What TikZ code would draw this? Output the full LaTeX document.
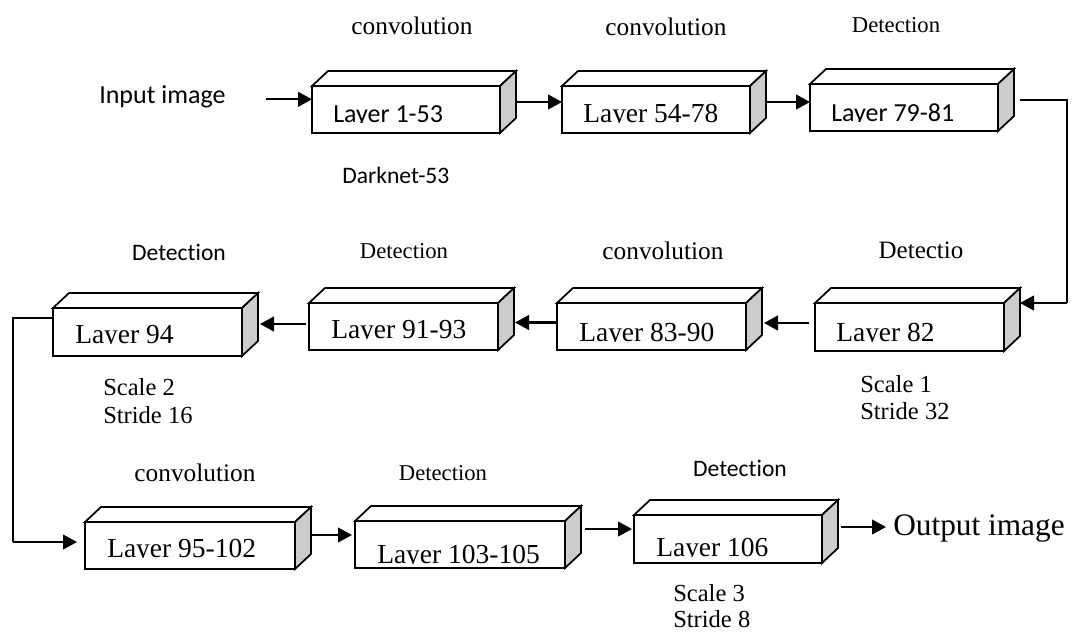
\documentclass[tikz,border=0pt]{standalone}
\usepackage{fontspec}
\setmainfont{Liberation Serif}
\newfontfamily\calfont[Ligatures=NoCommon]{Carlito}
\usetikzlibrary{arrows.meta,calc}

% depth of the cuboids (top/side faces)
\def\cdx{16}
\def\cdy{15}

\tikzset{
  face/.style={draw, line width=1.3pt, fill=white, inner sep=0pt, outer sep=0pt, anchor=north west},
  facetop/.style={draw, line width=1.3pt, fill=white},
  faceside/.style={draw, line width=1.3pt, fill=black!20},
  arr/.style={line width=1.6pt, -{Triangle[length=10.5pt,width=11pt]}},
  link/.style={line width=1pt},
  lbl/.style={inner sep=0pt, anchor=base},
  lblw/.style={inner sep=0pt, anchor=base west},
  serL/.style={font=\fontsize{20.6}{24}\selectfont},
  calL/.style={font=\calfont\fontsize{19.5}{23}\selectfont},
  serC/.style={font=\fontsize{19}{22}\selectfont},
  serD/.style={font=\fontsize{17}{20}\selectfont},
  serE/.style={font=\fontsize{18.75}{22}\selectfont},
  serS/.style={font=\fontsize{18.4}{22}\selectfont},
  serO/.style={font=\fontsize{23.5}{27}\selectfont},
  calI/.style={font=\calfont\fontsize{19.5}{23}\selectfont},
  calD/.style={font=\calfont\fontsize{17.7}{21}\selectfont},
}

% a layer block: front face node, top face, shaded side face, caption
% whose descenders are hidden by the lower edge of the caption frame
% #1 name, #2 left, #3 top, #4 width, #5 height, #6 text x, #7 text baseline, #8 font style, #9 caption
\newcommand\layerbox[9]{%
  \node[face, minimum width=#4*0.75pt, minimum height=#5*0.75pt] (#1) at (#2,#3) {};
  \draw[facetop] (#1.north west) -- ++(\cdx,-\cdy) -- ([shift={(\cdx,-\cdy)}]#1.north east) -- (#1.north east) -- cycle;
  \draw[faceside] (#1.north east) -- ++(\cdx,-\cdy) -- ([shift={(\cdx,-\cdy)}]#1.south east) -- (#1.south east) -- cycle;
  \coordinate (#1r) at ([shift={(\cdx,-\cdy/2)}]#1.east);
  \node[lblw,#8] (#1t) at (#6,#7) {#9};
  \fill[white] (#2+1.2,#7+1) rectangle (#2+#4-1.2,#3+#5-1.1);
}

\begin{document}
\begin{tikzpicture}[x=0.75pt,y=-0.75pt]
\useasboundingbox (0,0) rectangle (1074,633);

% ---- first row ----
\layerbox{b1}{312}{86}{188}{47}{333}{122}{calL}{Layer 1-53}
\layerbox{b2}{562}{86}{188}{47}{583}{122}{serL}{Layer 54-78}
\layerbox{b3}{810}{84}{188}{47}{831}{121}{calL}{Layer 79-81}

% ---- second row ----
\layerbox{b4}{815}{303}{189}{48}{836}{341}{serL}{Layer 82}
\layerbox{b7}{557}{303}{189}{47}{579}{341}{serL}{Layer 83-90}
\layerbox{b6}{309}{303}{189}{47}{331}{338}{serL}{Layer 91-93}
\layerbox{b5}{53}{308}{189}{48}{75}{343}{serL}{Layer 94}

% ---- third row ----
\layerbox{b9}{85}{522}{210}{47}{107}{557}{serL}{Layer 95-102}
\layerbox{b10}{355}{521}{210}{47}{377}{563}{serL}{Layer 103-105}
\layerbox{b11}{634}{515}{188}{48}{656}{556}{serL}{Layer 106}

% ---- labels ----
\node[lbl,serC] (c1) at (412,34) {convolution};
\node[lbl,serC] (c2) at (666,35) {convolution};
\node[lbl,serD] (d1) at (896,32) {Detection};
\node[lblw,calI] (inp) at (99,103) {Input image};
\node[lblw,calD] (dk) at (342,183) {Darknet-53};

\node[lbl,calD] (d2) at (179,260) {Detection};
\node[lbl,serD] (d3) at (404,258) {Detection};
\node[lbl,serC] (c3) at (663,259) {convolution};
\node[lbl,serE] (d4) at (921,258) {Detectio};
\node[lblw,serS] (s2a) at (103,395) {Scale 2};
\node[lblw,serS] (s2b) at (103,423) {Stride 16};
\node[lblw,serS] (s1a) at (860,392) {Scale 1};
\node[lblw,serS] (s1b) at (860,419) {Stride 32};

\node[lbl,serC] (c4) at (195,481) {convolution};
\node[lbl,serD] (d5) at (443,480) {Detection};
\node[lbl,calD] (d6) at (740,476) {Detection};
\node[lblw,serO] (outp) at (893,535) {Output image};
\node[lblw,serS] (s3a) at (673,601) {Scale 3};
\node[lblw,serS] (s3b) at (673,627) {Stride 8};

% ---- connectors ----
\coordinate (a0) at ([shift={(40,3)}]inp.east);
\draw[arr] (a0) -- (a0 -| b1.west);
\draw[arr] (b1r) -- (b1r -| b2.west);
\draw[arr] (b2r) -- (b2r -| b3.west);

\coordinate (k1) at (1067,303);
\draw[link] ([xshift=4.5pt]b3r) -| (k1);
\draw[arr] (k1) -- (k1 -| b4r);

\coordinate (a4) at ([shift={(-6,-4)}]b4.west);
\draw[arr, shorten >=1.5pt] (a4) -- (a4 -| b7r);
\coordinate (a7) at ([yshift=3pt]b7.west);
\draw[arr, shorten >=0.75pt] (a7) -- (a7 -| b6r);
\coordinate (a6) at ([shift={(-3,-2.5)}]b6.west);
\draw[arr, shorten >=1.5pt] (a6) -- (a6 -| b5r);

\coordinate (a5) at ([yshift=10.5pt]b5.west);
\coordinate (k2) at (13,542);
\draw[link] (a5) -| (k2);
\draw[arr, shorten >=6pt] (k2) -- (k2 -| b9.west);

\coordinate (a9) at ([yshift=2.25pt]b9r);
\draw[arr, shorten >=2.25pt] (a9) -- (a9 -| b10.west);
\coordinate (a10) at ([shift={(4,-8)}]b10r);
\draw[arr, shorten >=1.5pt] (a10) -- (a10 -| b11.west);
\coordinate (a11) at ([shift={(3,-4.5)}]b11r);
\draw[arr, shorten >=5.25pt] (a11) -- (a11 -| outp.west);
\end{tikzpicture}
\end{document}
